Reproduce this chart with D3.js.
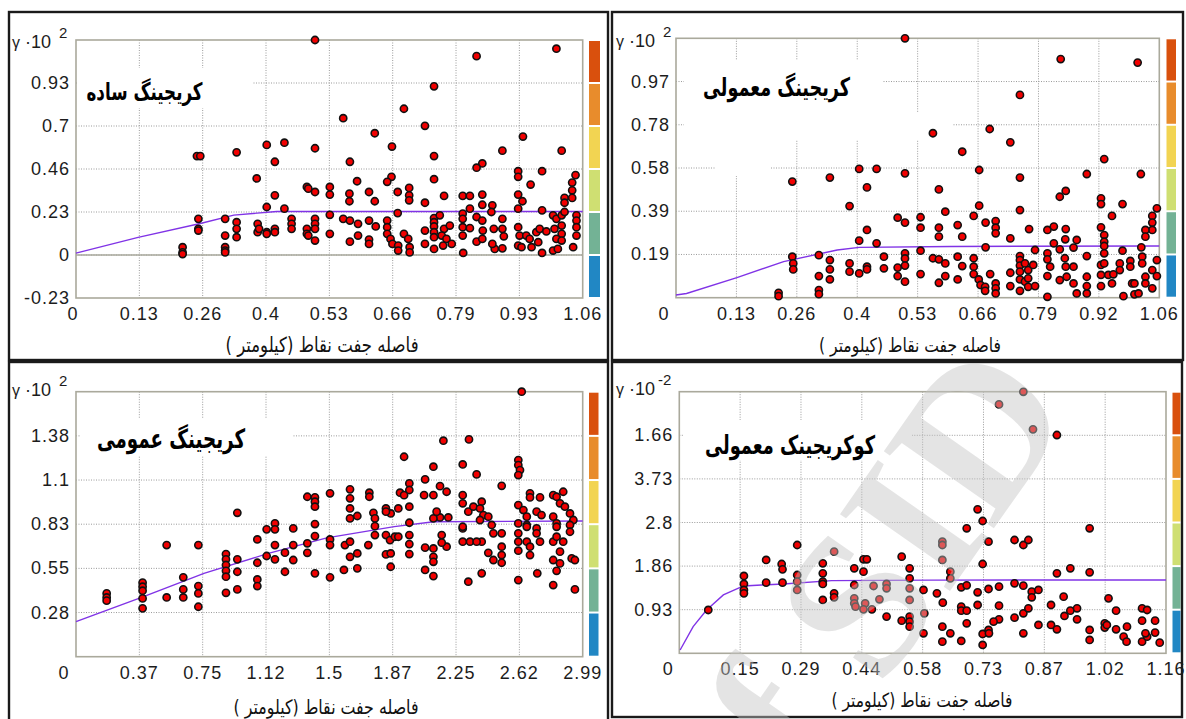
<!DOCTYPE html>
<html>
<head>
<meta charset="utf-8">
<script src="https://cdn.jsdelivr.net/npm/d3@7"></script>
<style>
  body { margin: 0; background: #fff; }
  svg text { font-family: "Liberation Sans", Arial, sans-serif; }
</style>
</head>
<body>
<svg id="chart" width="1186" height="719"></svg>
<script>
"use strict"

// ---- data ----
let tlPoints = [
  [0.50,1.16],[0.253,0.534],[0.26,0.534],[0.336,0.554],[0.399,0.594],[0.436,0.606],[0.50,0.576],
  [0.416,0.503],[0.378,0.413],[0.416,0.322],[0.399,0.259],[0.436,0.25],[0.483,0.367],[0.486,0.358],
  [0.50,0.34],[0.256,0.195],[0.256,0.141],[0.256,0.132],[0.223,0.042],[0.223,0.014],[0.223,0.005],
  [0.312,0.195],[0.312,0.105],[0.312,0.042],[0.312,0.024],[0.312,0.014],[0.336,0.177],[0.336,0.141],
  [0.336,0.096],[0.38,0.168],[0.38,0.123],[0.383,0.141],[0.399,0.123],[0.399,0.114],[0.416,0.141],
  [0.416,0.123],[0.451,0.195],[0.451,0.168],[0.451,0.141],[0.483,0.141],[0.483,0.114],[0.486,0.105],
  [0.50,0.195],[0.50,0.168],[0.50,0.141],[0.50,0.078],
  [0.838,1.073],[1.005,1.113],[0.749,0.91],[0.686,0.789],[0.559,0.738],[0.625,0.657],[0.73,0.697],
  [0.661,0.585],[0.749,0.534],[0.573,0.503],[0.935,0.639],[0.892,0.563],[1.016,0.563],[0.85,0.494],
  [0.838,0.471],[0.588,0.398],[0.66,0.422],[0.651,0.395],[0.749,0.409],[0.925,0.452],[0.925,0.422],
  [0.975,0.452],[0.951,0.38],[1.045,0.431],[1.038,0.391],[1.038,0.349],[1.038,0.308],[1.022,0.308],
  [1.022,0.282],[0.531,0.367],[0.531,0.326],[0.572,0.331],[0.572,0.29],[0.613,0.34],[0.625,0.29],
  [0.673,0.34],[0.697,0.362],[0.697,0.322],[0.697,0.295],[0.73,0.282],[0.77,0.319],[0.809,0.319],
  [0.824,0.319],[0.85,0.326],[0.871,0.268],[0.85,0.271],[0.925,0.326],[0.934,0.29],[0.925,0.25],
  [0.531,0.217],[0.531,0.114],[0.559,0.195],[0.573,0.186],[0.59,0.168],[0.573,0.072],[0.59,0.105],
  [0.613,0.186],[0.627,0.154],[0.613,0.083],[0.613,0.06],[0.651,0.186],[0.651,0.15],[0.651,0.114],
  [0.658,0.087],[0.662,0.06],[0.674,0.051],[0.674,0.024],[0.686,0.114],[0.695,0.087],[0.698,0.042],
  [0.698,0.014],[0.673,0.226],[0.73,0.132],[0.73,0.06],[0.749,0.199],[0.749,0.177],[0.749,0.154],
  [0.749,0.123],[0.749,0.096],[0.749,0.033],[0.761,0.214],[0.77,0.141],[0.782,0.159],[0.765,0.105],
  [0.775,0.087],[0.786,0.06],[0.768,0.051],[0.809,0.223],[0.809,0.195],[0.809,0.15],[0.809,0.105],
  [0.81,0.011],[0.824,0.25],[0.824,0.145],[0.838,0.205],[0.838,0.072],[0.85,0.186],[0.851,0.132],
  [0.85,0.087],[0.869,0.232],[0.874,0.141],[0.876,0.033],[0.871,0.06],[0.892,0.195],[0.892,0.141],
  [0.895,0.101],[0.892,0.036],[0.925,0.15],[0.928,0.105],[0.925,0.051],[0.932,0.042],[0.942,0.105],
  [0.949,0.087],[0.953,0.042],[0.963,0.123],[0.97,0.141],[0.967,0.069],[0.975,0.011],[0.984,0.127],
  [0.998,0.214],[1.005,0.195],[1.016,0.214],[1.001,0.141],[1.016,0.159],[1.016,0.114],[1.005,0.087],
  [1.016,0.078],[0.998,0.024],[1.008,0.033],[0.975,0.241],[1.04,0.042],[1.047,0.214],[1.047,0.186],
  [1.047,0.15],[1.047,0.105],[1.022,0.232]
];
let tlCurve = [[0,0.01],[0.13,0.095],[0.26,0.17],[0.33,0.215],[0.42,0.235],[1.06,0.235]];
let tlXLabels = ["0","0.13","0.26","0.4","0.53","0.66","0.79","0.93","1.06"];
let tlYLabels = ["-0.23","0","0.23","0.46","0.7","0.93",""];

let trPoints = [
  [0.50,1.164],[0.254,0.521],[0.336,0.539],[0.40,0.578],[0.438,0.578],[0.50,0.558],[0.417,0.495],
  [0.379,0.411],[0.484,0.359],[0.50,0.337],[0.417,0.304],[0.40,0.256],[0.438,0.244],[0.254,0.184],
  [0.256,0.154],[0.256,0.127],[0.224,0.022],[0.224,0.007],[0.312,0.191],[0.312,0.097],[0.312,0.034],
  [0.312,0.016],[0.336,0.169],[0.336,0.127],[0.336,0.082],[0.379,0.154],[0.379,0.117],[0.40,0.109],
  [0.417,0.139],[0.417,0.127],[0.454,0.184],[0.454,0.132],[0.484,0.135],[0.484,0.097],[0.50,0.199],
  [0.50,0.176],[0.50,0.144],[0.50,0.072],
  [0.84,1.071],[1.008,1.055],[0.751,0.91],[0.685,0.757],[0.561,0.738],[0.625,0.655],[0.73,0.697],
  [0.662,0.573],[0.751,0.539],[0.574,0.486],[0.935,0.622],[0.897,0.555],[1.015,0.555],[0.851,0.479],
  [0.838,0.453],[0.588,0.386],[0.662,0.413],[0.65,0.367],[0.751,0.393],[0.928,0.446],[0.928,0.42],
  [0.975,0.42],[0.952,0.367],[1.05,0.401],[1.04,0.367],[1.04,0.337],[1.04,0.304],[1.025,0.304],
  [1.025,0.274],[0.534,0.361],[0.534,0.314],[0.574,0.314],[0.574,0.274],[0.615,0.326],[0.625,0.274],
  [0.676,0.337],[0.698,0.344],[0.698,0.314],[0.698,0.289],[0.73,0.266],[0.771,0.308],[0.811,0.304],
  [0.825,0.319],[0.851,0.308],[0.875,0.259],[0.85,0.262],[0.928,0.316],[0.935,0.281],[0.935,0.251],
  [0.534,0.211],[0.534,0.106],[0.561,0.177],[0.574,0.172],[0.588,0.154],[0.574,0.067],[0.588,0.097],
  [0.615,0.184],[0.615,0.082],[0.625,0.142],[0.65,0.177],[0.65,0.139],[0.65,0.106],[0.661,0.082],
  [0.665,0.057],[0.675,0.049],[0.675,0.031],[0.698,0.064],[0.698,0.042],[0.698,0.019],[0.686,0.106],
  [0.676,0.226],[0.73,0.112],[0.73,0.052],[0.751,0.187],[0.751,0.169],[0.751,0.144],[0.751,0.117],
  [0.751,0.082],[0.751,0.031],[0.762,0.154],[0.769,0.124],[0.78,0.147],[0.784,0.214],[0.762,0.072],
  [0.769,0.049],[0.784,0.052],[0.769,0.087],[0.811,0.199],[0.811,0.172],[0.817,0.139],[0.811,0.097],
  [0.811,0.004],[0.825,0.244],[0.838,0.217],[0.849,0.177],[0.851,0.139],[0.838,0.079],[0.853,0.094],
  [0.868,0.225],[0.868,0.139],[0.868,0.064],[0.875,0.019],[0.897,0.187],[0.897,0.094],[0.897,0.052],
  [0.897,0.019],[0.928,0.147],[0.928,0.102],[0.928,0.052],[0.935,0.232],[0.935,0.199],[0.935,0.154],
  [0.944,0.102],[0.952,0.064],[0.955,0.105],[0.969,0.154],[0.969,0.124],[0.975,0.211],[0.977,0.007],
  [0.992,0.165],[0.996,0.064],[0.992,0.139],[1.001,0.015],[1.001,0.064],[1.01,0.019],[1.018,0.184],
  [1.018,0.154],[1.025,0.094],[1.025,0.064],[1.04,0.042],[1.04,0.124],[1.05,0.169],[1.05,0.097],
  [1.016,0.226]
];
let trCurve = [[0,0.012],[0.023,0.019],[0.133,0.09],[0.235,0.162],[0.352,0.214],[0.40,0.226],[0.6,0.23],[1.055,0.232]];
let trXLabels = ["0","0.13","0.26","0.4","0.53","0.66","0.79","0.92","1.06"];
let trYLabels = ["","0.19","0.39","0.58","0.78","0.97",""];

let blPoints = [
  [0.181,0.394],[0.181,0.369],[0.181,0.349],[0.393,0.461],[0.393,0.436],[0.393,0.411],[0.393,0.363],
  [0.393,0.301],[0.535,0.695],[0.535,0.369],[0.633,0.494],[0.633,0.419],[0.633,0.369],[0.722,0.695],
  [0.722,0.44],[0.722,0.394],[0.722,0.311],[0.885,0.639],[0.885,0.606],[0.885,0.571],[0.885,0.535],
  [0.885,0.498],[0.885,0.398],[0.952,0.896],[0.952,0.606],[0.952,0.529],[0.952,0.419],[1.07,0.73],
  [1.07,0.585],[1.07,0.481],[1.07,0.44],[1.125,0.793],[1.125,0.627],[1.174,0.83],[1.174,0.793],
  [1.174,0.695],[1.174,0.606],[1.233,0.648],[1.233,0.529],[1.282,0.799],[1.282,0.695],[1.282,0.602],
  [1.365,0.996],[1.41,0.992],[1.41,0.965],[1.41,0.934],[1.41,0.826],[1.41,0.751],[1.365,0.706],
  [1.365,0.647],[1.41,0.519],
  [2.63,1.65],[2.168,1.345],[2.319,1.353],[1.936,1.245],[2.109,1.183],[2.282,1.197],[2.364,1.135],
  [2.61,1.224],[2.61,1.193],[2.62,1.162],[2.61,1.131],[2.06,1.104],[2.512,1.064],[1.499,1.017],
  [1.617,1.042],[1.617,0.986],[1.617,0.923],[1.617,0.861],[1.66,0.876],[1.731,1.021],[1.731,0.996],
  [1.755,0.896],[1.764,0.861],[1.764,0.813],[1.829,0.923],[1.857,0.892],[1.829,0.903],[1.902,0.923],
  [1.912,1.021],[1.936,1.006],[1.967,1.079],[1.967,1.038],[1.967,0.934],[1.967,0.834],[2.054,1.006],
  [2.109,1.006],[2.148,1.062],[2.187,1.027],[2.197,0.867],[2.148,0.867],[2.109,0.861],[2.128,0.903],
  [2.282,1.006],[2.282,0.955],[2.315,0.903],[2.345,0.934],[2.394,0.965],[2.384,0.923],[2.404,0.882],
  [2.384,0.851],[2.433,0.872],[2.453,0.82],[2.282,0.799],[2.325,0.716],[2.394,0.716],[2.463,0.768],
  [2.61,0.944],[2.64,0.913],[2.66,0.872],[2.679,1.017],[2.679,0.992],[2.738,0.992],[2.718,0.903],
  [2.747,0.882],[2.816,1.006],[2.836,0.996],[2.875,1.027],[2.856,0.955],[2.885,0.934],[2.915,0.892],
  [2.935,0.851],[2.66,0.82],[2.718,0.799],[2.718,0.768],[2.816,0.872],[2.836,0.83],[1.499,0.73],
  [1.499,0.695],[1.499,0.494],[1.587,0.695],[1.617,0.716],[1.617,0.622],[1.66,0.643],[1.66,0.55],
  [1.581,0.54],[1.725,0.695],[1.764,0.757],[1.829,0.757],[1.853,0.726],[1.882,0.747],[1.902,0.747],
  [1.829,0.637],[1.857,0.643],[1.857,0.56],[1.967,0.757],[1.967,0.701],[1.967,0.639],[2.06,0.679],
  [2.06,0.54],[2.109,0.674],[2.109,0.622],[2.109,0.591],[2.109,0.502],[2.158,0.757],[2.187,0.685],
  [2.158,0.71],[2.282,0.809],[2.282,0.716],[2.315,0.467],[2.364,0.716],[2.394,0.519],[2.433,0.647],
  [2.463,0.602],[2.512,0.768],[2.512,0.685],[2.512,0.633],[2.512,0.585],[2.61,0.83],[2.61,0.768],
  [2.61,0.716],[2.61,0.66],[2.61,0.477],[2.66,0.809],[2.66,0.716],[2.679,0.685],[2.679,0.633],
  [2.722,0.519],[2.738,0.716],[2.816,0.716],[2.836,0.809],[2.836,0.747],[2.856,0.654],[2.875,0.716],
  [2.816,0.602],[2.856,0.581],[2.836,0.535],[2.816,0.446],[2.915,0.82],[2.915,0.778],[2.925,0.612],
  [2.944,0.602],[2.944,0.419]
];
let blCurve = [[0,0.218],[0.387,0.369],[0.755,0.519],[1.135,0.643],[1.48,0.74],[1.878,0.81],[2.11,0.84],[2.99,0.845]];
let blXLabels = ["0","0.37","0.75","1.12","1.5","1.87","2.25","2.62","2.99"];
let blYLabels = ["","0.28","0.55","0.83","1.1","1.38",""];

let brPoints = [
  [0.069,0.926],[0.154,1.653],[0.154,1.482],[0.154,1.354],[0.154,1.282],[0.207,1.995],[0.207,1.51],
  [0.244,1.909],[0.246,1.795],[0.246,1.51],[0.281,2.315],[0.281,1.674],[0.281,1.532],[0.281,1.354],
  [0.342,1.923],[0.342,1.71],[0.342,1.532],[0.342,1.482],[0.342,1.14],[0.369,2.173],[0.369,1.282],
  [0.369,1.197],[0.417,1.817],[0.417,1.46],[0.417,1.175],[0.417,1.069],[0.42,0.997],[0.439,2.009],
  [0.447,2.009],[0.439,1.745],[0.443,1.069],[0.439,0.94],[0.459,0.94],[0.463,1.439],[0.477,1.154],
  [0.494,1.482],[0.494,1.389],[0.494,0.784],[0.53,2.066],[0.549,1.817],[0.549,1.603],[0.549,1.389],
  [0.549,1.14],[0.549,0.784],[0.549,0.677],[0.549,0.57],[0.53,0.698],
  [0.82,5.59],[0.762,5.32],[0.843,4.787],[0.9,4.666],[0.711,3.078],[0.723,2.828],[0.978,2.672],
  [0.685,2.672],[0.737,2.387],[0.799,2.422],[0.82,2.315],[0.832,2.422],[0.627,2.387],[0.627,2.315],
  [0.627,1.995],[0.646,1.745],[0.646,1.603],[0.582,1.354],[0.584,0.855],[0.582,0.427],[0.614,1.282],
  [0.628,1.083],[0.627,0.57],[0.627,0.249],[0.646,0.427],[0.723,1.909],[0.9,1.71],[0.932,1.817],
  [0.978,1.731],[0.672,1.411],[0.685,1.453],[0.711,1.304],[0.737,1.375],[0.762,1.425],[0.799,1.496],
  [0.82,1.446],[0.84,1.318],[0.856,1.354],[0.84,1.197],[0.672,0.997],[0.672,0.912],[0.685,0.912],
  [0.711,1.033],[0.685,0.641],[0.672,0.264],[0.762,1.019],[0.762,0.727],[0.749,0.677],[0.737,0.499],
  [0.723,0.413],[0.723,0.178],[0.738,0.427],[0.799,0.762],[0.82,0.855],[0.832,0.962],[0.82,0.427],
  [0.856,0.606],[0.886,1.033],[0.916,1.211],[0.918,0.798],[0.932,0.912],[0.948,0.962],[0.948,0.727],
  [0.886,0.606],[0.9,0.513],[0.978,0.499],[0.978,0.285],[1.014,0.641],[1.014,0.549],[1.019,0.606],
  [1.023,1.175],[1.041,0.912],[1.041,0.513],[1.059,0.356],[1.067,0.57],[1.066,0.249],[1.103,0.962],
  [1.115,0.926],[1.103,0.698],[1.103,0.249],[1.115,0.356],[1.111,0.427],[1.134,0.698],[1.134,0.442],
  [1.145,0.228]
];
let brCurve = [[0.002,0.071],[0.033,0.57],[0.065,0.926],[0.105,1.247],[0.153,1.439],[0.196,1.46],[0.248,1.482],[0.363,1.553],[0.6,1.565],[1.16,1.567]];
let brXLabels = ["0","0.15","0.29","0.44","0.58","0.73","0.87","1.02","1.16"];
let brYLabels = ["","0.93","1.86","2.8","3.73","1.66",""];

let titles = ["کریجینگ ساده", "کریجینگ معمولی", "کریجینگ عمومی", "کوکریجینک معمولی"];
let xTitle = "فاصله جفت نقاط (کیلومتر )";
let barColors = ["#d9500d", "#e88c2c", "#f2d452", "#cfdf72", "#73b295", "#2187c4"];

// ---- layout ----
let panels = [
  { pts: tlPoints, curve: tlCurve, xl: tlXLabels, yl: tlYLabels, title: titles[0], exp: "2",
    xMax: 1.06, yMin: -0.232, yMax: 1.16, box: [76, 40, 582.7, 298], frame: [9, 12, 608, 360],
    bar: [589, 600], blanks: [[78, 68, 253, 108]], titleW: 116, titleC: [144.5, 92],
    xtC: [322, 345], xtW: 193, head: [12, 47.5], zeroShift: -3, solidZero: true },
  { pts: trPoints, curve: trCurve, xl: trXLabels, yl: trYLabels, title: titles[1], exp: "2",
    xMax: 1.0553, yMin: 0, yMax: 1.164, box: [676, 38.3, 1159.3, 297.7], frame: [612, 12, 1183, 360],
    bar: [1166.5, 1176], blanks: [[684, 60, 882, 112], [684, 112, 952, 140], [715, 140, 770, 176]],
    titleW: 147, titleC: [776.5, 87],
    xtC: [910, 345], xtW: 182, head: [616, 46.7], zeroShift: -12 },
  { pts: blPoints, curve: blCurve, xl: blXLabels, yl: blYLabels, title: titles[2], exp: "2",
    xMax: 2.99, yMin: 0, yMax: 1.65, box: [76, 391.7, 582.7, 656.7], frame: [9, 362, 608, 724],
    bar: [589, 598.5], blanks: [[80, 418, 293, 456]], titleW: 148, titleC: [171, 439],
    xtC: [326, 707], xtW: 185, head: [12, 396], zeroShift: -12 },
  { pts: brPoints, curve: brCurve, xl: brXLabels, yl: brYLabels, title: titles[3], exp: "-2",
    xMax: 1.16, yMin: 0, yMax: 5.592, box: [679.3, 391.7, 1166, 653.3], frame: [612, 362, 1182, 717],
    bar: [1172.5, 1180.5], blanks: [[684, 420, 912, 460]], titleW: 170, titleC: [790, 444.5],
    xtC: [922, 700], xtW: 181, head: [616, 395], zeroShift: -11 }
];

let svg = d3.select("#chart");
svg.append("rect").attr("width", 1186).attr("height", 719).attr("fill", "#fff");

function fitText(t, width, base)
{
  t.style("font-size", base + "px");
  let len = t.node().getComputedTextLength();
  t.style("font-size", (base * width / len) + "px");
}

panels.forEach(function(p) {
  let [x0, y0, x1, y1] = p.box;
  let x = d3.scaleLinear().domain([0, p.xMax]).range([x0, x1]);
  let y = d3.scaleLinear().domain([p.yMin, p.yMax]).range([y1, y0]);
  let xTicks = d3.range(9).map(i => i * p.xMax / 8);
  let yTicks = d3.range(7).map(i => p.yMin + i * (p.yMax - p.yMin) / 6);
  let g = svg.append("g");

  // grid
  g.selectAll(".vg").data(xTicks.slice(1, 8)).enter().append("line")
    .attr("x1", d => x(d)).attr("x2", d => x(d)).attr("y1", y0).attr("y2", y1)
    .attr("stroke", "#9a9a9a").attr("stroke-width", 1).attr("stroke-dasharray", "1,1.5");
  g.selectAll(".hg").data(yTicks.slice(1, 6)).enter().append("line")
    .attr("x1", x0).attr("x2", x1).attr("y1", d => y(d)).attr("y2", d => y(d))
    .attr("stroke", "#9a9a9a").attr("stroke-width", 1).attr("stroke-dasharray", "1,1.5");
  if (p.solidZero) {
    g.append("line").attr("x1", x0).attr("x2", x1).attr("y1", y(0)).attr("y2", y(0))
      .attr("stroke", "#a8a89c").attr("stroke-width", 1.5);
  }

  // white patches where the legend box hides the grid
  g.selectAll(".blank").data(p.blanks).enter().append("rect")
    .attr("x", d => d[0]).attr("y", d => d[1])
    .attr("width", d => d[2] - d[0]).attr("height", d => d[3] - d[1])
    .attr("fill", "#fff");

  g.append("rect").attr("x", x0).attr("y", y0).attr("width", x1 - x0).attr("height", y1 - y0)
    .attr("fill", "none").attr("stroke", "#aaa99c").attr("stroke-width", 1.6);

  // tick labels
  g.selectAll(".xl").data(xTicks).enter().append("text")
    .attr("x", (d, i) => x(d) + (i === 0 ? p.zeroShift : 0)).attr("y", y1 + 16)
    .attr("text-anchor", "middle").attr("dominant-baseline", "central")
    .style("font-size", "18px").style("letter-spacing", "1px").attr("fill", "#1c1c1c")
    .text((d, i) => p.xl[i]);
  g.selectAll(".yl").data(yTicks).enter().append("text")
    .attr("x", x0 - 6).attr("y", d => y(d))
    .attr("text-anchor", "end").attr("dominant-baseline", "central")
    .style("font-size", "18px").style("letter-spacing", "1px").attr("fill", "#1c1c1c")
    .text((d, i) => p.yl[i]);

  // header  γ ·10^n
  let h = g.append("text").attr("x", p.head[0]).attr("y", p.head[1]).attr("fill", "#1c1c1c");
  h.append("tspan").style("font-size", "16px").text("γ");
  h.append("tspan").attr("dx", 5).style("font-size", "18px").text("·10");
  h.append("tspan").attr("dx", p.exp === "2" ? 8 : 3).attr("dy", -10).style("font-size", "15px").text(p.exp);

  // colour bar
  let segH = (y1 - y0) / barColors.length;
  g.selectAll(".bar").data(barColors).enter().append("rect")
    .attr("x", p.bar[0]).attr("width", p.bar[1] - p.bar[0])
    .attr("y", (d, i) => y0 + i * segH + 1).attr("height", segH - 2)
    .attr("fill", d => d);

  // model line
  g.append("path").datum(p.curve)
    .attr("d", d3.line().x(d => x(d[0])).y(d => y(d[1])))
    .attr("fill", "none").attr("stroke", "#8033e6").attr("stroke-width", 1.4);

  // experimental points
  g.selectAll(".pt").data(p.pts).enter().append("circle")
    .attr("cx", d => x(d[0])).attr("cy", d => y(d[1])).attr("r", 3.6)
    .attr("fill", "#f20000").attr("stroke", "#111").attr("stroke-width", 1.6);

  // title, stretched upward like the original face
  let tg = g.append("g")
    .attr("transform", "translate(" + p.titleC[0] + "," + p.titleC[1] + ") scale(1,1.45)");
  let t = tg.append("text")
    .attr("text-anchor", "middle").attr("dominant-baseline", "central")
    .attr("direction", "rtl")
    .style("font-family", "'DejaVu Sans', sans-serif").style("font-weight", "bold")
    .attr("fill", "#000").text(p.title);
  fitText(t, p.titleW, 18);

  // x axis title
  let xg = g.append("g")
    .attr("transform", "translate(" + p.xtC[0] + "," + p.xtC[1] + ") scale(1,1.25)");
  let xt = xg.append("text")
    .attr("text-anchor", "middle").attr("dominant-baseline", "central")
    .attr("direction", "rtl")
    .style("font-family", "'DejaVu Sans', sans-serif")
    .attr("fill", "#111").text(xTitle);
  fitText(xt, p.xtW, 13);

  // panel frame
  let f = p.frame;
  svg.append("rect").attr("x", f[0]).attr("y", f[1]).attr("width", f[2] - f[0]).attr("height", f[3] - f[1])
    .attr("fill", "none").attr("stroke", "#1a1a1a").attr("stroke-width", 2.4);
});

// watermark over the lower right panel
svg.append("text")
  .attr("transform", "translate(812,788) rotate(-55)")
  .style("font-family", "'Liberation Serif', serif").style("font-weight", "bold")
  .style("font-size", "205px")
  .attr("fill", "#c4c4c4").attr("fill-opacity", 0.45)
  .text("f SID");
</script>
</body>
</html>
